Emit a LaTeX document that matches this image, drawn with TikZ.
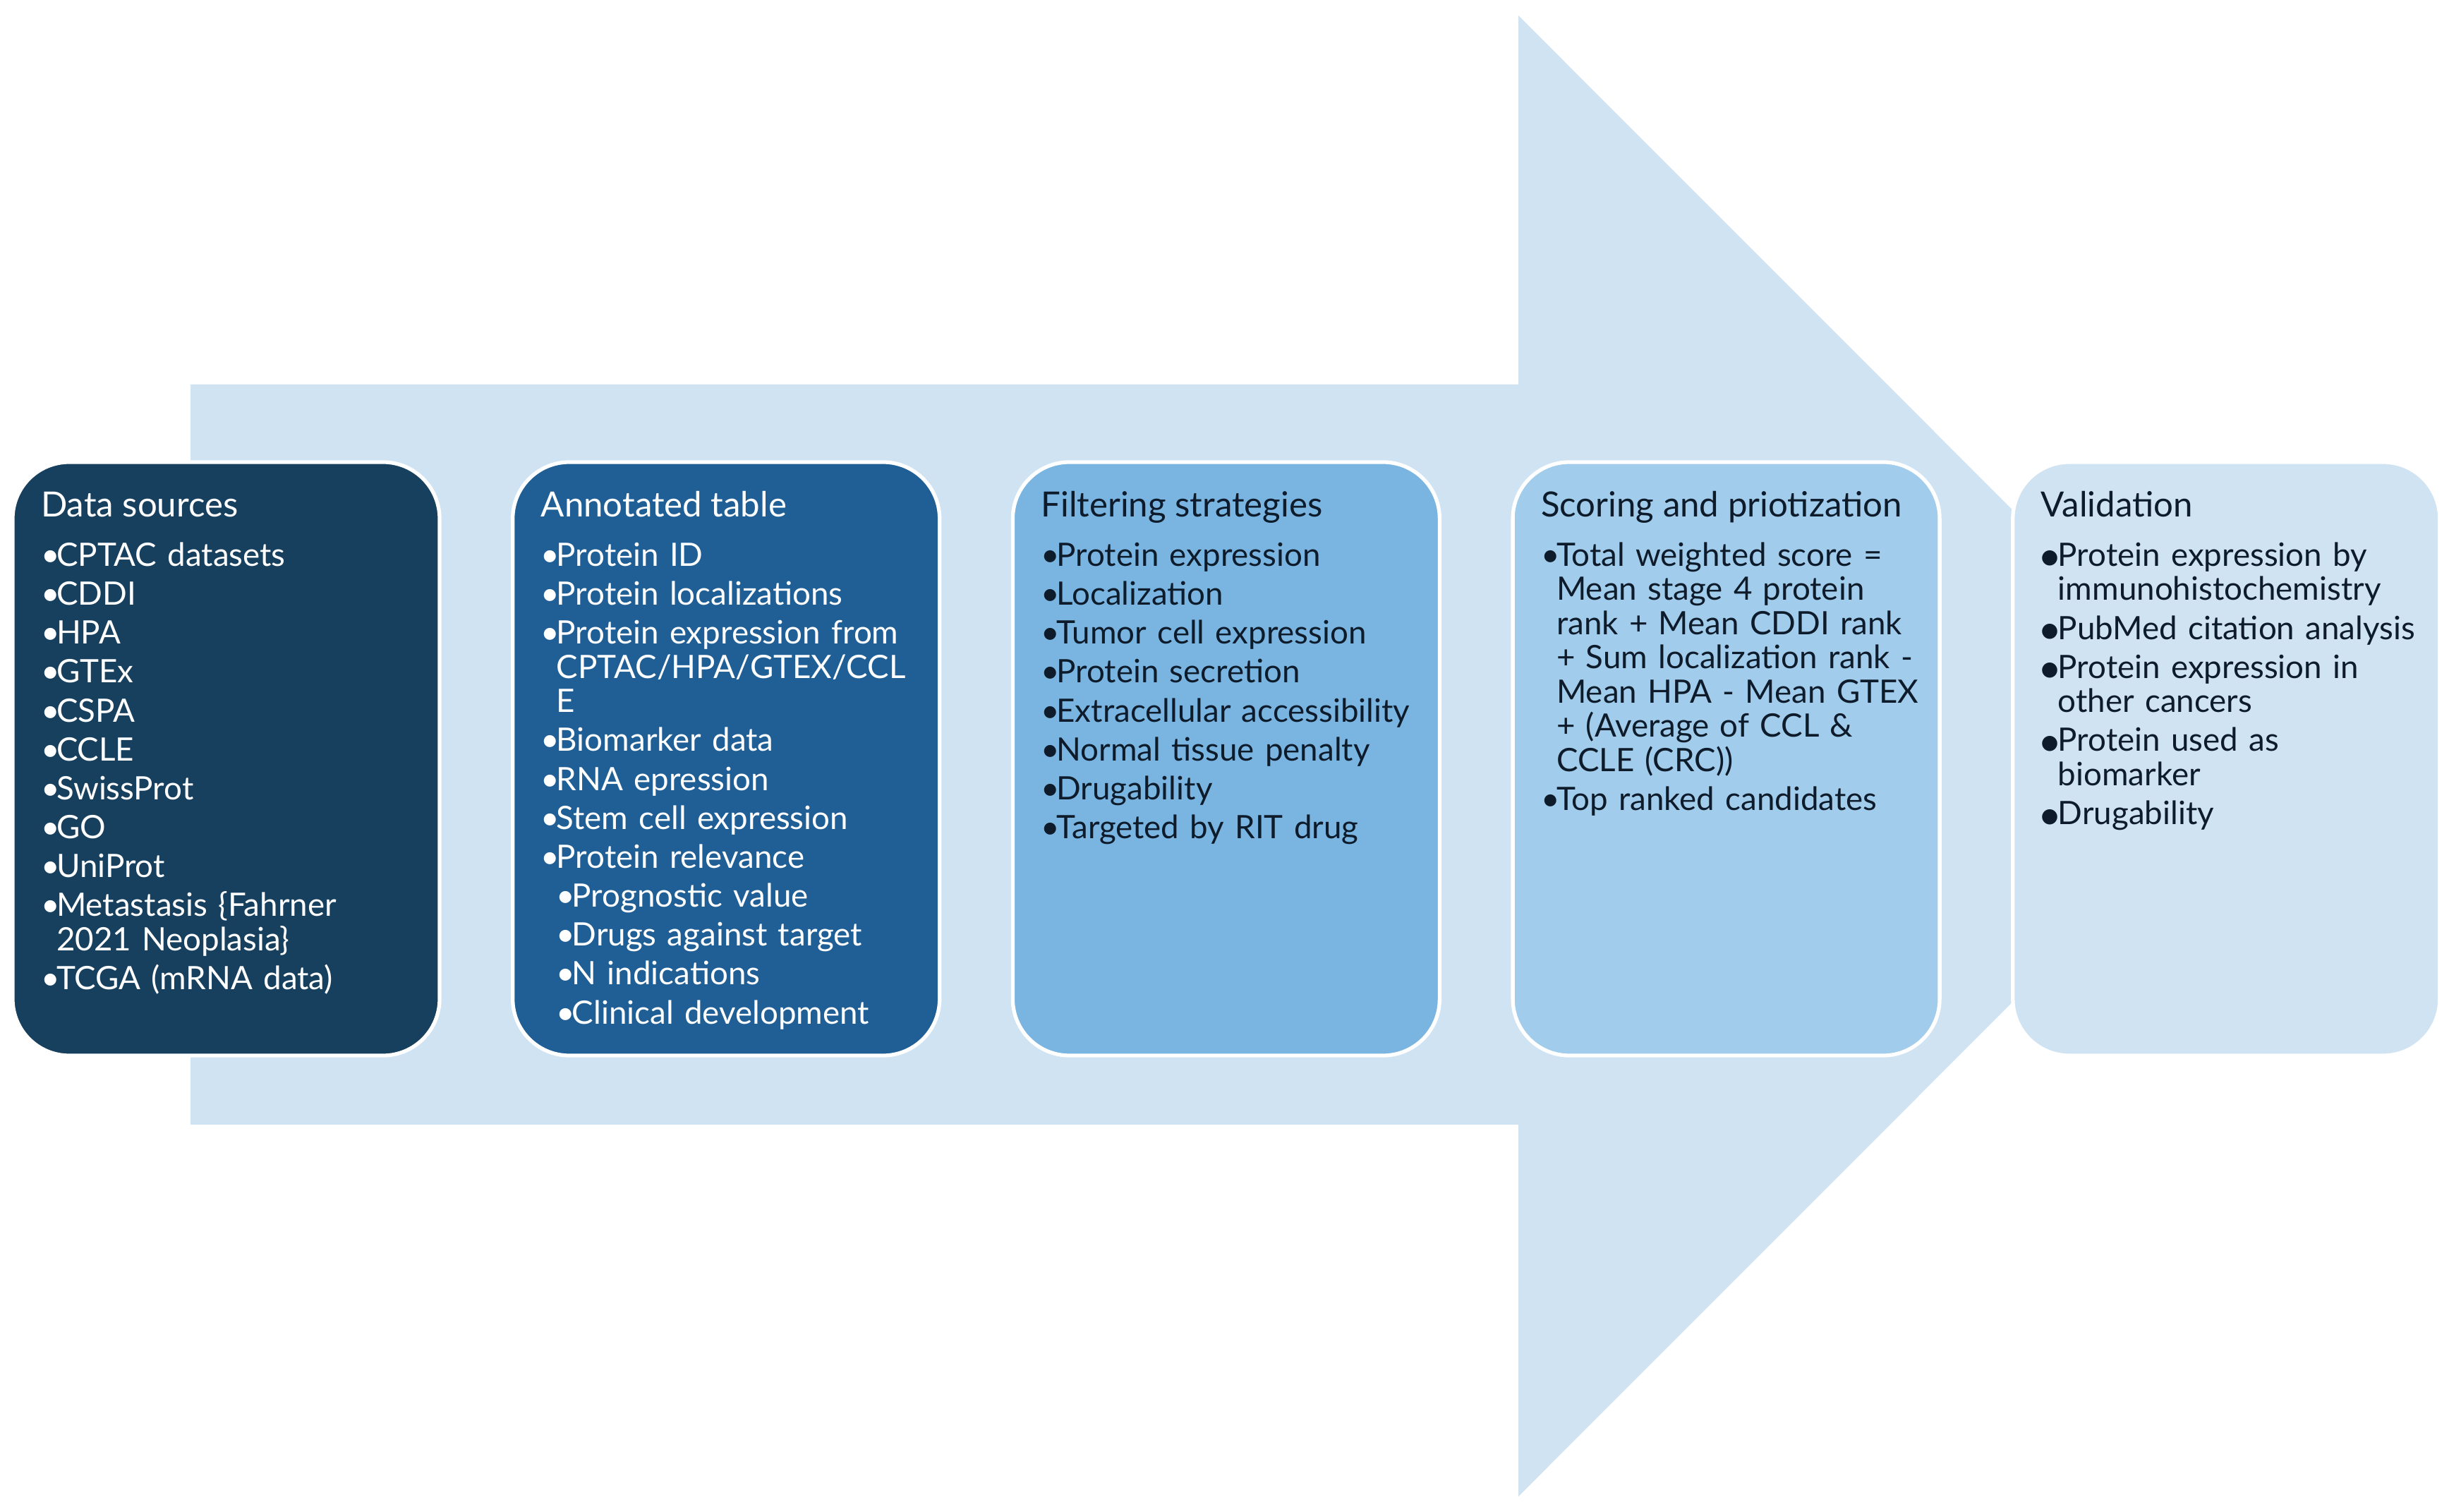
\documentclass[tikz,border=0pt]{standalone}
\usepackage{fontspec}
\setmainfont{Lato}
\newfontfamily\symfont{DejaVu Sans}
\usetikzlibrary{positioning}

\definecolor{arrowfill}{HTML}{CFE3F3}
\definecolor{dsfill}{HTML}{17405F}
\definecolor{atfill}{HTML}{1F5F96}
\definecolor{fsfill}{HTML}{7AB5E2}
\definecolor{spfill}{HTML}{A2CCEB}
\definecolor{vafill}{HTML}{CFE3F3}
\definecolor{ink}{HTML}{0D1B2A}

\newcommand{\bl}[1]{\hangindent=0.22cm\hangafter=1\noindent\makebox[0.22cm][l]{\textbullet}#1\par}
\newcommand{\sbl}[1]{\hangindent=0.44cm\hangafter=1\noindent\hspace*{0.22cm}\makebox[0.22cm][l]{\textbullet}#1\par}
\newcommand{\dbl}[1]{\hangindent=0.24cm\hangafter=1\noindent\makebox[0.24cm][l]{\raisebox{0.15ex}{\symfont\fontsize{8}{8}\selectfont ●}}#1\par}

\begin{document}
\begin{tikzpicture}[
    box/.style={draw=white,line width=1.5pt,rounded corners=0.8cm,minimum width=6.05cm,minimum height=8.41cm,inner sep=0pt},
    title/.style={below right=0.80cm and 0.42cm of #1.north west,anchor=base west,inner sep=0pt,font=\fontsize{14}{16}\selectfont},
    list/.style={below right=1.50cm and 0.42cm of #1.north west,anchor=base west,inner sep=0pt,text width=5.8cm,align=left,
        font=\fontsize{13}{13.8}\selectfont,execute at begin node={\setlength{\parskip}{1.9pt}}}
]
\useasboundingbox (0,0) rectangle (34.71,-21.43);
\fill[white] (0,0) rectangle (34.71,-21.43);
\fill[arrowfill] (2.70,-5.45) -- (21.52,-5.45) -- (21.52,-0.22) -- (32.01,-10.715)
    -- (21.52,-21.21) -- (21.52,-15.94) -- (2.70,-15.94) -- cycle;

\node[box,fill=dsfill] (ds) at (3.205,-10.755) {};
\node[box,fill=atfill] (at) at (10.292,-10.755) {};
\node[box,fill=fsfill] (fs) at (17.379,-10.755) {};
\node[box,fill=spfill] (sp) at (24.466,-10.755) {};
\node[box,fill=vafill] (va) at (31.553,-10.755) {};

\node[title=ds,text=white] (ds-t) {Data sources};
\node[list=ds,text=white] (ds-l) {\bl{CPTAC datasets}\bl{CDDI}\bl{HPA}\bl{GTEx}\bl{CSPA}\bl{CCLE}\bl{SwissProt}\bl{GO}\bl{UniProt}
    \bl{Metastasis \{Fahrner\newline 2021 Neoplasia\}}\bl{TCGA (mRNA data)}};

\node[title=at,text=white] (at-t) {Annotated table};
\node[list=at,text=white] (at-l) {\bl{Protein ID}\bl{Protein localizations}\bl{Protein expression from\newline CPTAC/HPA/GTEX/CCL\newline E}
    \bl{Biomarker data}\bl{RNA epression}\bl{Stem cell expression}\bl{Protein relevance}
    \sbl{Prognostic value}\sbl{Drugs against target}\sbl{N indications}\sbl{Clinical development}};

\node[title=fs,text=ink] (fs-t) {Filtering strategies};
\node[list=fs,text=ink] (fs-l) {\bl{Protein expression}\bl{Localization}\bl{Tumor cell expression}\bl{Protein secretion}
    \bl{Extracellular accessibility}\bl{Normal tissue penalty}\bl{Drugability}\bl{Targeted by RIT drug}};

\node[title=sp,text=ink] (sp-t) {Scoring and priotization};
\node[list=sp,text=ink] (sp-l) {\bl{Total weighted score =\newline Mean stage 4 protein\newline rank + Mean CDDI rank\newline + Sum localization rank -\newline Mean HPA - Mean GTEX\newline + (Average of CCL \&\newline CCLE (CRC))}
    \bl{Top ranked candidates}};

\node[title=va,text=ink] (va-t) {Validation};
\node[list=va,text=ink] (va-l) {\dbl{Protein expression by\newline immunohistochemistry}\dbl{PubMed citation analysis}
    \dbl{Protein expression in\newline other cancers}\dbl{Protein used as\newline biomarker}\dbl{Drugability}};
\end{tikzpicture}
\end{document}
